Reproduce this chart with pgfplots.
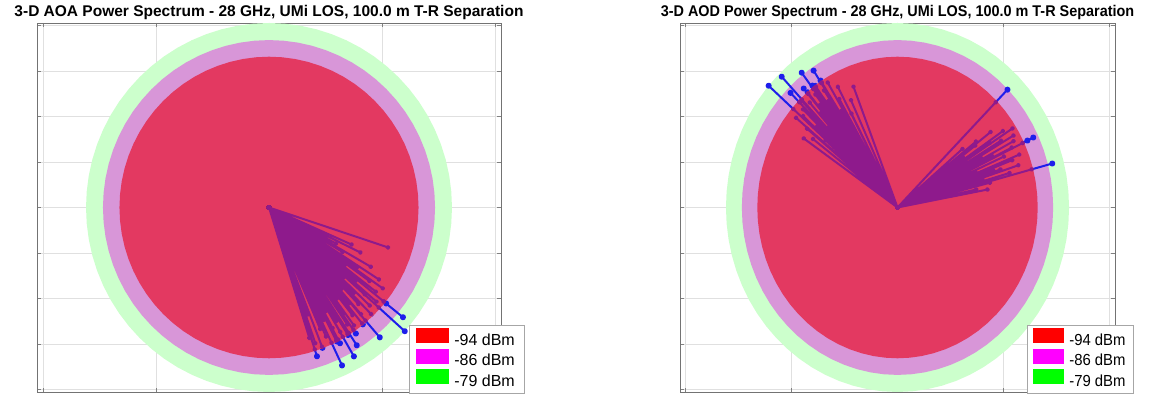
\documentclass[border=0pt]{standalone}
\usepackage{fontspec}
\setmainfont{Liberation Sans}
\newfontfamily\narrow[FakeStretch=0.93]{Liberation Sans}
\usepackage{pgfplots}
\pgfplotsset{compat=1.18}
\usepackage{pgfplotstable}

\definecolor{gring}{RGB}{204,255,204}
\definecolor{mring}{RGB}{216,150,216}
\definecolor{redreg}{RGB}{227,57,97}
\definecolor{raycol}{RGB}{30,30,235}
\definecolor{raypur}{RGB}{142,26,140}
\definecolor{legred}{RGB}{255,0,0}
\definecolor{legmag}{RGB}{255,0,255}
\definecolor{leggreen}{RGB}{0,255,0}

% circle outlines (angle in degrees, radii of the three power contours)
\pgfplotstableread{
a g m r
0 0.81 0.735 0.662
5 0.81 0.735 0.662
10 0.81 0.735 0.662
15 0.81 0.735 0.662
20 0.81 0.735 0.662
25 0.81 0.735 0.662
30 0.81 0.735 0.662
35 0.81 0.735 0.662
40 0.81 0.735 0.662
45 0.81 0.735 0.662
50 0.81 0.735 0.662
55 0.81 0.735 0.662
60 0.81 0.735 0.662
65 0.81 0.735 0.662
70 0.81 0.735 0.662
75 0.81 0.735 0.662
80 0.81 0.735 0.662
85 0.81 0.735 0.662
90 0.81 0.735 0.662
95 0.81 0.735 0.662
100 0.81 0.735 0.662
105 0.81 0.735 0.662
110 0.81 0.735 0.662
115 0.81 0.735 0.662
120 0.81 0.735 0.662
125 0.81 0.735 0.662
130 0.81 0.735 0.662
135 0.81 0.735 0.662
140 0.81 0.735 0.662
145 0.81 0.735 0.662
150 0.81 0.735 0.662
155 0.81 0.735 0.662
160 0.81 0.735 0.662
165 0.81 0.735 0.662
170 0.81 0.735 0.662
175 0.81 0.735 0.662
180 0.81 0.735 0.662
185 0.81 0.735 0.662
190 0.81 0.735 0.662
195 0.81 0.735 0.662
200 0.81 0.735 0.662
205 0.81 0.735 0.662
210 0.81 0.735 0.662
215 0.81 0.735 0.662
220 0.81 0.735 0.662
225 0.81 0.735 0.662
230 0.81 0.735 0.662
235 0.81 0.735 0.662
240 0.81 0.735 0.662
245 0.81 0.735 0.662
250 0.81 0.735 0.662
255 0.81 0.735 0.662
260 0.81 0.735 0.662
265 0.81 0.735 0.662
270 0.81 0.735 0.662
275 0.81 0.735 0.662
280 0.81 0.735 0.662
285 0.81 0.735 0.662
290 0.81 0.735 0.662
295 0.81 0.735 0.662
300 0.81 0.735 0.662
305 0.81 0.735 0.662
310 0.81 0.735 0.662
315 0.81 0.735 0.662
320 0.81 0.735 0.662
325 0.81 0.735 0.662
330 0.81 0.735 0.662
335 0.81 0.735 0.662
340 0.81 0.735 0.662
345 0.81 0.735 0.662
350 0.81 0.735 0.662
355 0.81 0.735 0.662
360 0.81 0.735 0.662
}\circtab

% AOA rays: angle (deg), normalized power radius; each ray followed by origin
\pgfplotstableread{
a r
-18.4 0.555
0 0
-28.1 0.336
0 0
-35.2 0.616
0 0
-39.1 0.764
0 0
-42.1 0.810
0 0
-49.3 0.752
0 0
-39.1 0.668
0 0
-57.3 0.719
0 0
-55.2 0.674
0 0
-60.1 0.754
0 0
-62.2 0.674
0 0
-65.0 0.765
0 0
-72.0 0.687
0 0
-72.7 0.600
0 0
-35.7 0.400
0 0
-24 0.40
0 0
-26 0.45
0 0
-30 0.52
0 0
-31 0.38
0 0
-33 0.58
0 0
-34 0.47
0 0
-36 0.55
0 0
-37 0.42
0 0
-38 0.60
0 0
-40 0.50
0 0
-41 0.63
0 0
-42 0.57
0 0
-43 0.45
0 0
-44 0.62
0 0
-45 0.53
0 0
-46 0.65
0 0
-47 0.58
0 0
-48 0.48
0 0
-49 0.62
0 0
-50 0.55
0 0
-51 0.66
0 0
-52 0.60
0 0
-53 0.50
0 0
-54 0.64
0 0
-55 0.57
0 0
-56 0.62
0 0
-57 0.45
0 0
-58 0.66
0 0
-59 0.58
0 0
-60 0.63
0 0
-61 0.52
0 0
-62 0.60
0 0
-63 0.66
0 0
-64 0.55
0 0
-66 0.62
0 0
-67 0.58
0 0
-69 0.66
0 0
-70 0.50
0 0
-71 0.63
0 0
}\aoa

% AOD rays
\pgfplotstableread{
a r
138.7 0.810
0 0
133.6 0.793
0 0
127.4 0.745
0 0
123.4 0.720
0 0
123.1 0.665
0 0
130.3 0.685
0 0
135.1 0.713
0 0
126.9 0.669
0 0
111.4 0.570
0 0
117.8 0.466
0 0
145.6 0.537
0 0
140.6 0.620
0 0
115 0.52
0 0
118 0.60
0 0
120 0.55
0 0
121 0.64
0 0
122 0.50
0 0
124 0.62
0 0
125 0.57
0 0
126 0.66
0 0
127 0.52
0 0
128 0.63
0 0
129 0.58
0 0
130 0.66
0 0
131 0.55
0 0
132 0.62
0 0
133 0.48
0 0
134 0.65
0 0
135 0.58
0 0
136 0.62
0 0
137 0.52
0 0
138 0.60
0 0
139 0.45
0 0
141 0.55
0 0
143 0.50
0 0
44.9 0.733
0 0
25.6 0.711
0 0
14.8 0.756
0 0
32.6 0.644
0 0
30.0 0.632
0 0
25.6 0.680
0 0
19.0 0.514
0 0
10.5 0.432
0 0
36.5 0.457
0 0
12 0.38
0 0
14 0.45
0 0
16 0.55
0 0
17 0.42
0 0
18 0.60
0 0
20 0.48
0 0
21 0.58
0 0
22 0.62
0 0
23 0.40
0 0
24 0.55
0 0
26 0.60
0 0
27 0.50
0 0
28 0.62
0 0
29 0.45
0 0
31 0.57
0 0
33 0.52
0 0
34 0.60
0 0
35 0.38
0 0
37 0.55
0 0
38 0.47
0 0
40 0.40
0 0
}\aod

\pgfplotsset{
  spec/.style={
    scale only axis,
    anchor=south west,
    xmin=-1.027, xmax=1.027, ymin=-0.81, ymax=0.81,
    xtick={-1,-0.5,0,0.5,1},
    ytick={-0.8,-0.6,-0.4,-0.2,0,0.2,0.4,0.6,0.8},
    xticklabels={}, yticklabels={},
    grid=major,
    major grid style={black!12, line width=0.5pt},
    tick align=inside, major tick length=4pt,
    tick style={black!50, line width=0.5pt},
    axis line style={black!55, line width=0.6pt},
    every axis title shift=0pt,
    title style={at={(0.5,1)}, anchor=base, yshift=6.5pt},
    clip marker paths=true,
    legend cell align=left,
    legend image code/.code={\fill[##1, draw=none] (0pt,-3pt) rectangle (33pt,12pt);},
  },
  disc/.style={draw=none, data cs=polar, forget plot},
  rays/.style={raycol, line width=2pt, line join=round, line cap=round,
    data cs=polar, forget plot, mark=*, mark size=2pt,
    mark options={fill=raycol, draw=none}},
  raysin/.style={raypur, line width=2pt, line join=round, line cap=round,
    data cs=polar, forget plot, mark=*, mark size=1.4pt,
    mark options={fill=raypur, draw=none}},
}

\begin{document}
\begin{tikzpicture}
\path[use as bounding box] (0,0) rectangle (1150pt,396pt);

\begin{axis}[spec, at={(37pt,4pt)}, width=464pt, height=369pt,
  title={\fontsize{15.5}{18}\selectfont\bfseries 3-D AOA Power Spectrum - 28 GHz, UMi LOS, 100.0 m T-R Separation},
  legend style={at={(0.802,-0.003)}, anchor=south west, draw=black!35, fill=white,
    font=\fontsize{16}{19}\selectfont, inner xsep=7pt, inner ysep=3pt, row sep=0pt,
    /tikz/every odd column/.append style={column sep=3pt}},
]
\addplot[disc, fill=gring] table[x=a, y=g] {\circtab};
\addplot[disc, fill=mring] table[x=a, y=m] {\circtab};
\addplot[rays] table[x=a, y=r] {\aoa};
\addplot[disc, fill=redreg] table[x=a, y=r] {\circtab};
\addplot[raysin] table[x=a, y expr={min(\thisrow{r},0.655)}] {\aoa};
\addlegendimage{fill=legred}
\addlegendentry{-94 dBm}
\addlegendimage{fill=legmag}
\addlegendentry{-86 dBm}
\addlegendimage{fill=leggreen}
\addlegendentry{-79 dBm}
\end{axis}

\begin{axis}[spec, at={(680pt,4pt)}, width=435pt, height=369pt,
  title={\narrow\fontsize{15.5}{18}\selectfont\bfseries 3-D AOD Power Spectrum - 28 GHz, UMi LOS, 100.0 m T-R Separation},
  legend image code/.code={\fill[#1, draw=none] (0pt,-3pt) rectangle (31pt,12pt);},
  legend style={at={(0.798,-0.003)}, anchor=south west, draw=black!35, fill=white,
    font=\narrow\fontsize{16}{19}\selectfont, inner xsep=6pt, inner ysep=3pt, row sep=0pt,
    /tikz/every odd column/.append style={column sep=3pt}},
]
\addplot[disc, fill=gring] table[x=a, y=g] {\circtab};
\addplot[disc, fill=mring] table[x=a, y=m] {\circtab};
\addplot[rays] table[x=a, y=r] {\aod};
\addplot[disc, fill=redreg] table[x=a, y=r] {\circtab};
\addplot[raysin] table[x=a, y expr={min(\thisrow{r},0.655)}] {\aod};
\addlegendimage{fill=legred}
\addlegendentry{-94 dBm}
\addlegendimage{fill=legmag}
\addlegendentry{-86 dBm}
\addlegendimage{fill=leggreen}
\addlegendentry{-79 dBm}
\end{axis}
\end{tikzpicture}
\end{document}
